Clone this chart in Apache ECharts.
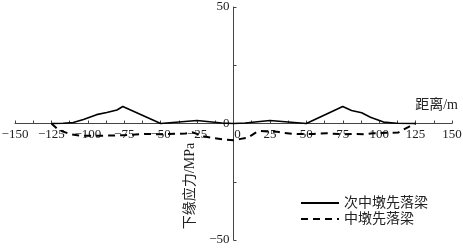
<!DOCTYPE html>
<html><head><meta charset="utf-8">
<script src="https://cdn.jsdelivr.net/npm/echarts@6/dist/echarts.min.js"></script>
<style>html,body{margin:0;padding:0;background:#fff}#c{width:463px;height:250px}</style>
</head><body><div id="c"></div>
<script>
var seriesNames = ['次中墩先落梁', '中墩先落梁'];
var xAxisName = '距离/m';
var yAxisName = '下缘应力/MPa';
var solidX = [-125, -117, -110, -103, -94, -87, -80, -76, -50, -25, -8, 0, 8, 25, 50, 75, 81, 88, 94, 103, 112, 125];
var solidY = [0, 0.1, 0.4, 1.7, 3.8, 4.7, 5.8, 7.3, 0, 1.3, 0.2, 0, 0.2, 1.3, 0, 7.3, 5.6, 4.6, 2.7, 0.6, 0.1, 0];
var dashX = [-125, -120, -112, -105, -92, -87, -75, -60, -50, -40, -33, -28, -20, -14, -5, 0, 4, 10, 15, 18, 24, 30, 35, 40, 46, 55, 64, 75, 82, 90, 96, 105, 113, 121, 125];
var dashY = [0, -2.8, -4.6, -5.2, -5.3, -5.2, -5, -4.5, -4.6, -4.4, -4.3, -3.8, -5.6, -6.2, -7, -7.2, -6.7, -6, -4, -3.2, -3.5, -3.5, -4.1, -4.4, -4.5, -4.5, -4.2, -4.6, -4.5, -4.6, -4.2, -4, -3.9, -1.2, 0];
var xMin = -150, xMax = 150, xStep = 25;
var yMin = -50, yMax = 50, yStep = 50;

function pairs(xs, ys) { return xs.map(function (x, i) { return [x, ys[i]]; }); }
function minus(v) { return String(v).replace('-', '\u2212'); }

var W = 463, H = 250;
var G = { left: 15, right: 11, top: 7, bottom: 10 };
var gw = W - G.left - G.right, gh = H - G.top - G.bottom;
// place axes on the zero lines
var xOff = -gh * (0 - yMin) / (yMax - yMin);
var yOff = -gw * (0 - xMin) / (xMax - xMin);

var numFont = '"Liberation Serif", "DejaVu Serif", serif';
var cjkFont = '"Liberation Serif", "Noto Sans CJK SC", serif';

var chart = echarts.init(document.getElementById('c'));
chart.setOption({
  animation: false,
  backgroundColor: '#fff',
  grid: { left: G.left, right: G.right, top: G.top, bottom: G.bottom, containLabel: false, outerBoundsMode: 'none' },
  xAxis: {
    type: 'value', min: xMin, max: xMax, interval: xStep, position: 'bottom', offset: xOff,
    axisLine: { onZero: false, lineStyle: { color: '#444', width: 1 } },
    axisTick: { show: true, inside: true, length: 3, lineStyle: { color: '#444' } },
    minorTick: { show: true, splitNumber: 2, length: 3, lineStyle: { color: '#444' } },
    splitLine: { show: false },
    axisLabel: {
      margin: 5, color: '#222', fontFamily: numFont, fontSize: 13, hideOverlap: false,
      formatter: function (v) { return v === 0 ? '{z|0}' : minus(v); },
      rich: { z: { padding: [0, 0, 0, 8], fontFamily: numFont, fontSize: 13, color: '#222' } }
    }
  },
  yAxis: {
    type: 'value', min: yMin, max: yMax, interval: yStep, position: 'left', offset: yOff,
    axisLine: { onZero: false, lineStyle: { color: '#444', width: 1 } },
    axisTick: { show: true, inside: true, length: 3, lineStyle: { color: '#444' } },
    minorTick: { show: true, splitNumber: 2, length: 3, lineStyle: { color: '#444' } },
    splitLine: { show: false },
    axisLabel: {
      margin: 4, color: '#222', fontFamily: numFont, fontSize: 13, hideOverlap: false,
      showMinLabel: true, showMaxLabel: true,
      formatter: function (v) { return minus(v); }
    }
  },
  legend: {
    orient: 'vertical', left: 295, top: 191, itemWidth: 38, itemHeight: 14, itemGap: 2,
    itemStyle: { color: 'rgba(0,0,0,0)', borderWidth: 0 },
    textStyle: { fontFamily: cjkFont, fontSize: 14, color: '#222' },
    data: seriesNames
  },
  graphic: [
    { type: 'text', x: 190, y: 186, rotation: Math.PI / 2,
      style: { text: yAxisName, fontFamily: cjkFont, fontSize: 14, fill: '#222', textAlign: 'center', textVerticalAlign: 'middle' } },
    { type: 'text', x: 458, y: 105,
      style: { text: xAxisName, fontFamily: cjkFont, fontSize: 14, fill: '#222', textAlign: 'right', textVerticalAlign: 'middle' } }
  ],
  series: [
    { name: seriesNames[0], type: 'line', symbol: 'none', data: pairs(solidX, solidY),
      lineStyle: { color: '#000', width: 1.6 }, itemStyle: { color: '#000' } },
    { name: seriesNames[1], type: 'line', symbol: 'none', data: pairs(dashX, dashY),
      lineStyle: { color: '#000', width: 2, type: [7, 5] }, itemStyle: { color: '#000' } }
  ]
});
</script></body></html>
